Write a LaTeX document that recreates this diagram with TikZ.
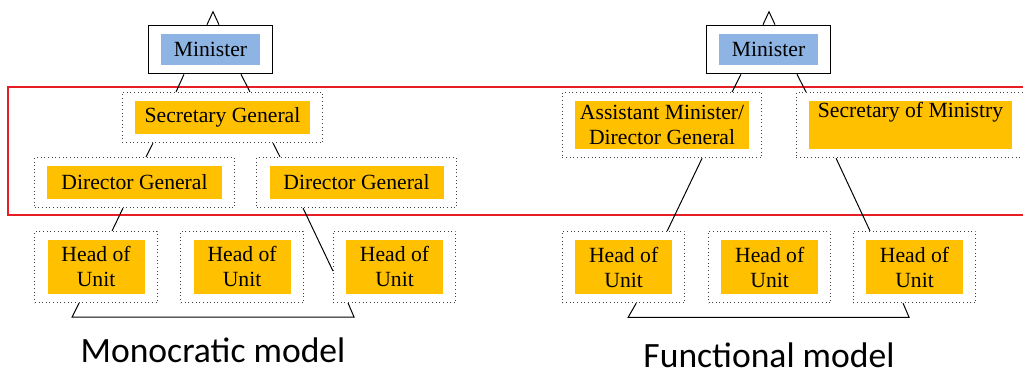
\documentclass[tikz,border=0pt]{standalone}
\usepackage{fontspec}
\setmainfont{Liberation Serif}
\newfontfamily\modelfont{Carlito}
\usepackage{tikz}
\usetikzlibrary{positioning, fit, calc}
\definecolor{ministerblue}{RGB}{141,180,226}
\definecolor{postorange}{RGB}{255,192,0}
\definecolor{framered}{RGB}{232,30,38}
\tikzstyle{minister} = [rectangle, minimum width=2.475cm, minimum height=0.775cm, inner sep=0pt, text centered, fill=ministerblue]
\tikzstyle{post} = [rectangle, minimum width=4.35cm, minimum height=0.825cm, inner sep=0pt, align=center, fill=postorange]
\tikzstyle{unit} = [post, minimum width=2.425cm, minimum height=1.35cm]
\tikzstyle{solidbox} = [draw=black, line width=0.9pt, inner xsep=0.31cm, inner ysep=0.21cm]
\tikzstyle{dottedbox} = [draw=black!75, dotted, line width=0.6pt, inner xsep=0.31cm, inner ysep=0.21cm]
\tikzstyle{link} = [line width=0.7pt]
\tikzstyle{region} = [draw=framered, line width=1.3pt]
\tikzstyle{modelname} = [anchor=base, font=\modelfont\fontsize{25.3}{30}\selectfont]

\begin{document}
\begin{tikzpicture}[x=0.025cm, y=-0.025cm, node distance=1.7cm, font=\fontsize{15.4}{17.8}\selectfont]
        \useasboundingbox (0,0) rectangle (1023,370);

        % red frame round the middle level
        \draw[region] (1023,87) -- (8,87) -- (8,215) -- (1023,215);

        % monocratic model
        \node[minister] (lMin) at (210.5,49.5) {Minister};
        \node[solidbox, fit=(lMin)] (lMinbox) {};
        \node[post, below of = lMin, xshift=0.3cm, minimum width=4.375cm] (lSG) {Secretary General};
        \node[dottedbox, fit=(lSG)] (lSGbox) {};
        \node[post, below of = lSG, xshift=-2.2cm, yshift=0.075cm] (lDGa) {Director General};
        \node[dottedbox, fit=(lDGa)] (lDGabox) {};
        \node[post, below of = lSG, xshift=3.35cm, yshift=0.075cm] (lDGb) {Director General};
        \node[dottedbox, fit=(lDGb)] (lDGbbox) {};
        \node[unit, below of = lDGa, node distance=2.11cm, xshift=-0.96cm] (lHoUa) {Head of\\Unit};
        \node[dottedbox, fit=(lHoUa)] (lHoUabox) {};
        \node[unit, below of = lDGa, node distance=2.11cm, xshift=2.69cm] (lHoUb) {Head of\\Unit};
        \node[dottedbox, fit=(lHoUb)] (lHoUbbox) {};
        \node[unit, below of = lDGb, node distance=2.11cm, xshift=0.95cm] (lHoUc) {Head of\\Unit};
        \node[dottedbox, fit=(lHoUc)] (lHoUcbox) {};

        \draw[link] ($(lMinbox.north)+(-3.5,0)$) -- ++(6,-13) -- ++(6,13);
        \draw[link] ($(lMinbox.south)+(-26.5,0)$) -- ($(lSGbox.north)+(-46.5,0)$);
        \draw[link] ($(lMinbox.south)+(30.5,0)$) -- ($(lSGbox.north)+(27.5,0)$);
        \draw[link] ($(lSGbox.south)+(-69.5,0)$) -- ($(lDGabox.north)+(11.5,0)$);
        \draw[link] ($(lSGbox.south)+(50.5,0)$) -- ($(lDGbbox.north)+(-76.5,0)$);
        \draw[link] ($(lDGabox.south)+(-11.5,0)$) -- ($(lHoUabox.north)+(16,0)$);
        \draw[link] ($(lDGbbox.south)+(-53.5,0)$) -- ($(lHoUcbox.west)+(0,4)$);
        \draw[link] ($(lHoUabox.south)+(-17,0)$) -- ++(-7,14) -- ($(lHoUcbox.south)+(-40.5,14)$) -- ($(lHoUcbox.south)+(-46.5,0)$);

        \node[modelname] (lModel) at (213,362.5) {Monocratic model};

        % functional model
        \node[minister] (rMin) at (768.5,49.5) {Minister};
        \node[solidbox, fit=(rMin)] (rMinbox) {};
        \node[post, below of = rMin, xshift=-2.66cm, yshift=-0.19cm, minimum height=1.2cm] (rAM) {Assistant Minister/\\Director General};
        \node[dottedbox, fit=(rAM)] (rAMbox) {};
        \node[post, below of = rMin, xshift=3.55cm, yshift=-0.19cm, minimum width=5.075cm, minimum height=1.2cm] (rSoM) {Secretary of Ministry\\\phantom{Ministry}};
        \node[dottedbox, fit=(rSoM)] (rSoMbox) {};
        \node[unit, below of = rAM, node distance=3.55cm, xshift=-0.96cm] (rHoUa) {Head of\\Unit};
        \node[dottedbox, fit=(rHoUa)] (rHoUabox) {};
        \node[unit, below of = rAM, node distance=3.55cm, xshift=2.69cm] (rHoUb) {Head of\\Unit};
        \node[dottedbox, fit=(rHoUb)] (rHoUbbox) {};
        \node[unit, below of = rSoM, node distance=3.55cm, xshift=0.1cm] (rHoUc) {Head of\\Unit};
        \node[dottedbox, fit=(rHoUc)] (rHoUcbox) {};

        \draw[link] ($(rMinbox.north)+(-5.5,0)$) -- ++(6,-13) -- ++(6,13);
        \draw[link] ($(rMinbox.south)+(-27.5,0)$) -- ($(rAMbox.north)+(70,0)$);
        \draw[link] ($(rMinbox.south)+(28.5,0)$) -- ($(rSoMbox.north)+(-104.5,0)$);
        \draw[link] ($(rAMbox.south)+(40,0)$) -- ($(rHoUabox.north)+(43.5,0)$);
        \draw[link] ($(rSoMbox.south)+(-74.5,0)$) -- ($(rHoUcbox.north)+(-44.5,0)$);
        \draw[link] ($(rHoUabox.south)+(12.5,0)$) -- ++(-8,14) -- ($(rHoUcbox.south)+(-5.5,14)$) -- ($(rHoUcbox.south)+(-11.5,0)$);

        \node[modelname] (rModel) at (769,367) {Functional model};
\end{tikzpicture}
\end{document}
